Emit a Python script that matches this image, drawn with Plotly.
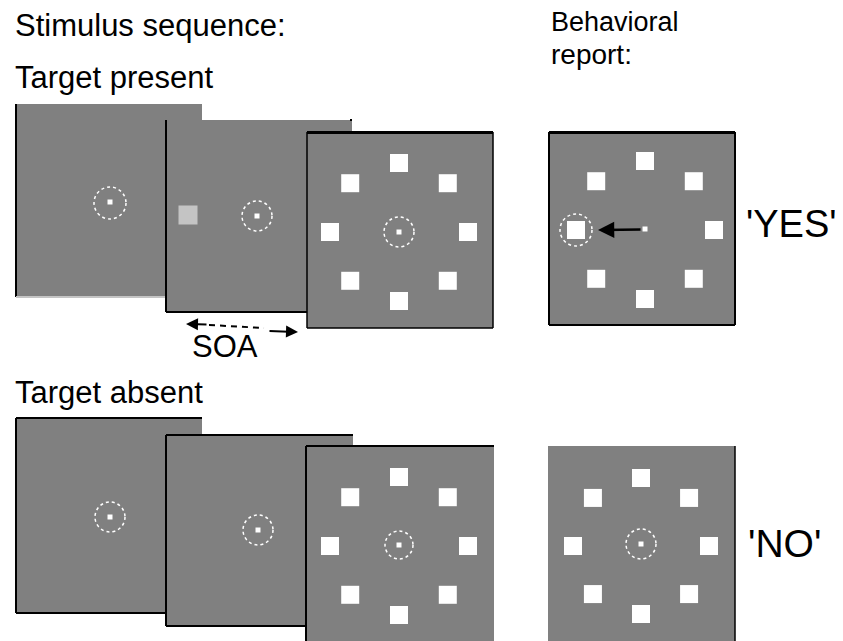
import math
import plotly.graph_objects as go

# ---------------- data ----------------
stimulus_angles_deg = [90, 45, 0, -45, -90, -135, 180, 135]   # 8 white squares of the search array
target_angle_deg = 180                                          # target location (left)
conditions = ["Target present", "Target absent"]
reports = ["'YES'", "'NO'"]
header_sequence = "Stimulus sequence:"
header_report = ["Behavioral", "report:"]
soa_label = "SOA"

# ---------------- styling / layout ----------------
W, H = 843, 641
OFF = 8           # page body margin of the browser
GRAY = "#808080"
LIGHT = "#c4c4c4"
FONT = "Liberation Sans, Arial, sans-serif"
ECC = 69          # eccentricity of array squares (px)
SQ = 18           # square size (px)

shapes = []
annotations = []


def rect(x0, y0, x1, y1, fill=GRAY):
    shapes.append(dict(type="rect", xref="x", yref="y", x0=x0, y0=y0, x1=x1, y1=y1,
                       fillcolor=fill, line=dict(width=0), layer="below"))


def seg(x0, y0, x1, y1, color="black", w=2, dash="solid"):
    shapes.append(dict(type="line", xref="x", yref="y", x0=x0, y0=y0, x1=x1, y1=y1,
                       line=dict(color=color, width=w, dash=dash), layer="below"))


def ring(cx, cy, r=15):
    shapes.append(dict(type="circle", xref="x", yref="y", x0=cx - r, y0=cy - r,
                       x1=cx + r, y1=cy + r, line=dict(color="white", width=1.5, dash="3px,3px"),
                       layer="below"))


def text(s, x, y, size, anchor="left"):
    annotations.append(dict(text=s, x=x, y=y, xref="x", yref="y", xanchor=anchor,
                            yanchor="middle", showarrow=False,
                            font=dict(family=FONT, size=size, color="black")))


sq_x, sq_y = [], []
dot_x, dot_y = [], []


def array_at(cx, cy, ecc=ECC):
    for a in stimulus_angles_deg:
        sq_x.append(cx + ecc * math.cos(math.radians(a)))
        sq_y.append(cy - ecc * math.sin(math.radians(a)))


# ---------- Target present row ----------
rect(16, 104, 202, 297)
seg(16, 104, 16, 297)
seg(16, 297, 166, 297, color=LIGHT, w=2)
ring(110, 203, 16)
dot_x.append(110); dot_y.append(202)

rect(166, 120, 352, 312)
seg(166, 120, 166, 312)
seg(166, 312, 307, 312)
seg(350, 120, 352, 120, w=2)
ring(257, 216, 15)
dot_x.append(257); dot_y.append(216)

rect(307, 132, 493, 328)
seg(307, 132.5, 493, 132.5, w=3)
seg(307, 132, 307, 328, w=1.5)
seg(493, 132, 493, 328, w=1.5)
seg(307, 328, 493, 328, w=1.5)
ring(399, 232, 15)
dot_x.append(399); dot_y.append(232)
array_at(399, 232)

rect(549, 132, 735, 325)
seg(549, 132.5, 735, 132.5, w=3)
seg(549, 132, 549, 325, w=2)
seg(735, 132, 735, 325, w=2)
seg(549, 325, 735, 325, w=2)
array_at(645, 230)
tx = 645 + ECC * math.cos(math.radians(target_angle_deg))
ring(tx, 230, 16)
dot_x.append(645); dot_y.append(229)

# ---------- Target absent row ----------
rect(16, 418, 202, 613)
seg(16, 418, 202, 418)
seg(16, 418, 16, 613)
seg(16, 613, 166, 613)
ring(110, 517, 15)
dot_x.append(110); dot_y.append(517)

rect(166, 435, 353, 626)
seg(166, 435, 353, 435)
seg(166, 435, 166, 626)
seg(166, 626, 306, 626)
ring(258, 530, 15)
dot_x.append(258); dot_y.append(530)

rect(306, 446, 494, 650)
seg(306, 446, 494, 446)
seg(306, 446, 306, 650)
ring(399, 545, 14)
dot_x.append(399); dot_y.append(545)
array_at(399, 546)

rect(548, 446, 735, 650)
seg(735, 446, 735, 650, w=1.5)
ring(641, 544, 15)
dot_x.append(641); dot_y.append(544)
array_at(641, 546, 68)

# ---------- SOA arrow ----------
seg(209, 325, 264, 328, w=2, dash="6px,5px")
annotations.append(dict(x=186, y=324, ax=208, ay=324.5, xref="x", yref="y", axref="x", ayref="y",
                        showarrow=True, arrowhead=2, arrowsize=1.2, arrowwidth=2,
                        arrowcolor="black", text=""))
annotations.append(dict(x=298, y=332, ax=268, ay=331, xref="x", yref="y", axref="x", ayref="y",
                        showarrow=True, arrowhead=2, arrowsize=1.2, arrowwidth=2,
                        arrowcolor="black", text=""))
# report arrow (saccade to target)
annotations.append(dict(x=tx + 22, y=230, ax=642, ay=229.5, xref="x", yref="y", axref="x", ayref="y",
                        showarrow=True, arrowhead=2, arrowsize=1.3, arrowwidth=2.5,
                        arrowcolor="black", text=""))

# ---------- texts ----------
text(header_sequence, 13, 25, 31)
text(conditions[0], 13, 77, 31)
text(header_report[0], 549, 22, 27)
text(header_report[1], 549, 54, 28)
text(soa_label, 190, 346, 31)
text(conditions[1], 13, 392, 31)
text(reports[0], 744, 224, 38)
text(reports[1], 746, 543, 39)

fig = go.Figure()
fig.add_trace(go.Scatter(x=sq_x, y=sq_y, mode="markers", hoverinfo="skip",
                         marker=dict(symbol="square", size=SQ, color="white", line=dict(width=0))))
fig.add_trace(go.Scatter(x=[188], y=[215], mode="markers", hoverinfo="skip",
                         marker=dict(symbol="square", size=19, color=LIGHT, line=dict(width=0))))
fig.add_trace(go.Scatter(x=dot_x, y=dot_y, mode="markers", hoverinfo="skip",
                         marker=dict(symbol="square", size=5, color="white", line=dict(width=0))))

fig.update_layout(
    width=W, height=H, margin=dict(l=0, r=0, t=0, b=0),
    paper_bgcolor="white", plot_bgcolor="white", showlegend=False,
    xaxis=dict(range=[OFF, W + OFF], visible=False, fixedrange=True),
    yaxis=dict(range=[H + OFF, OFF], visible=False, fixedrange=True),
    shapes=shapes, annotations=annotations,
)
fig.write_html("out.html")
